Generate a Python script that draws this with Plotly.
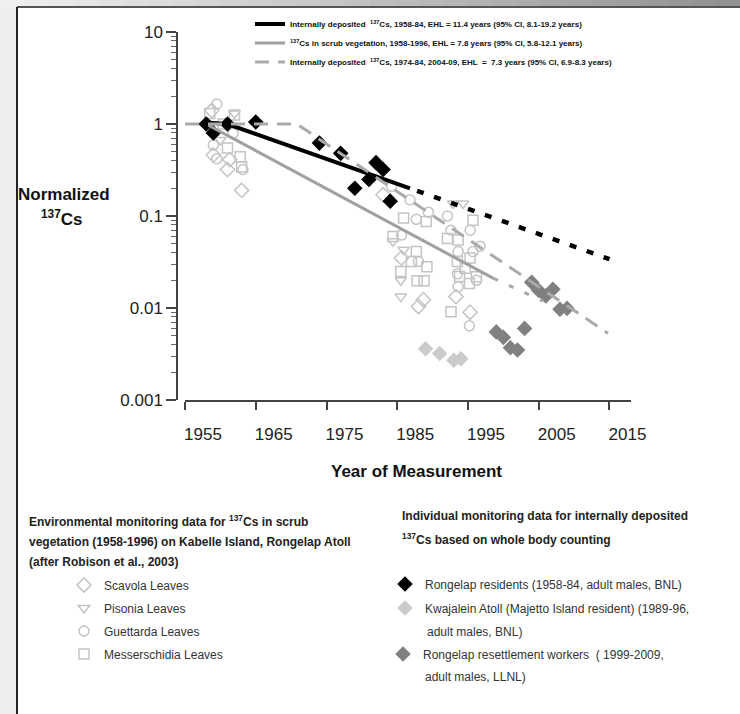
import plotly.graph_objects as go

# ---------------- data ----------------
# Trend lines
ehl1_years = [1958.0, 1961.0, 1986.8]
ehl1_vals = [1.04, 1.0, 0.2]
ehl1_ext_years = [1987.8, 2015.0]
ehl1_ext_vals = [0.188, 0.034]
veg_fit_years = [1958.3, 1998.6]
veg_fit_vals = [0.97, 0.021]
veg_ext_years = [1998.6, 2005.6]
veg_ext_vals = [0.021, 0.0119]
ehl3_years = [1955.0, 1970.8, 2014.8]
ehl3_vals = [1.0, 1.0, 0.0053]

# Environmental monitoring (scrub vegetation)
scavola_years = [1958.8, 1959.0, 1961.0, 1961.3, 1963.0, 1983.0, 1985.6, 1988.7, 1988.0, 1993.3, 1995.3]
scavola_vals = [1.4, 0.46, 0.32, 0.41, 0.19, 0.17, 0.035, 0.0123, 0.0104, 0.0133, 0.009]
pisonia_years = [1960.0, 1962.0, 1984.4, 1985.9, 1985.5, 1985.5, 1992.9, 1994.3]
pisonia_vals = [0.67, 1.3, 0.053, 0.043, 0.02, 0.0133, 0.137, 0.137]
guettarda_years = [1959.5, 1959.0, 1959.5, 1961.8, 1963.2, 1984.2, 1986.8, 1989.4, 1987.7, 1985.6, 1988.0,
                   1992.1, 1992.6, 1995.3, 1996.7, 1993.6, 1995.7, 1993.5, 1996.2, 1993.6, 1995.2]
guettarda_vals = [1.65, 0.59, 0.42, 0.79, 0.32, 0.21, 0.15, 0.11, 0.092, 0.062, 0.032,
                  0.10, 0.07, 0.07, 0.047, 0.041, 0.041, 0.0235, 0.02, 0.017, 0.0064]
messer_years = [1958.5, 1962.0, 1960.4, 1961.0, 1962.8, 1963.0, 1985.9, 1989.1, 1984.4, 1987.7, 1987.0, 1989.2,
                1985.5, 1987.8, 1988.8, 1995.7, 1992.1, 1993.6, 1995.3, 1993.5, 1994.6, 1996.2, 1993.8, 1995.2, 1992.6]
messer_vals = [1.3, 1.25, 1.0, 0.55, 0.44, 0.34, 0.095, 0.087, 0.06, 0.041, 0.032, 0.028,
               0.025, 0.0198, 0.0198, 0.09, 0.057, 0.055, 0.035, 0.032, 0.027, 0.0218, 0.022, 0.0185, 0.0091]

# Individual monitoring (whole body counting)
rongelap_years = [1958, 1959, 1961, 1965, 1974, 1977, 1979, 1981, 1982, 1983, 1984]
rongelap_vals = [1.0, 0.8, 1.0, 1.05, 0.62, 0.48, 0.2, 0.25, 0.38, 0.32, 0.145]
kwaj_years = [1989, 1991, 1993, 1994]
kwaj_vals = [0.0036, 0.0032, 0.0027, 0.0028]
workers_years = [1999, 2000, 2001, 2002, 2003, 2004, 2005, 2006, 2007, 2008, 2009]
workers_vals = [0.0055, 0.0048, 0.0037, 0.0035, 0.006, 0.019, 0.0155, 0.0135, 0.016, 0.0097, 0.0099]

y_tickvals = [0.001, 0.01, 0.1, 1, 10]
y_ticktext = ["0.001", "0.01", "0.1", "1", "10"]
x_tickvals = [1955, 1965, 1975, 1985, 1995, 2005, 2015]

# ---------------- figure ----------------
W, H = 740, 714
FONT = "Liberation Sans, Arial, sans-serif"


def px(x):
    return x / W


def py(y):
    return 1 - y / H


fig = go.Figure()

veg = [
    ("Scavola Leaves", "diamond-open", scavola_years, scavola_vals, 11),
    ("Pisonia Leaves", "triangle-down-open", pisonia_years, pisonia_vals, 10),
    ("Guettarda Leaves", "circle-open", guettarda_years, guettarda_vals, 10),
    ("Messerschidia Leaves", "square-open", messer_years, messer_vals, 10),
]
for name, sym, xs, ys, sz in veg:
    fig.add_trace(go.Scatter(
        x=xs, y=ys, mode="markers", name=name, legend="legend2", legendgroup=name,
        marker=dict(symbol=sym, size=sz, color="#c4c4c4", line=dict(color="#c4c4c4", width=1.5)),
        hoverinfo="skip"))

fig.add_trace(go.Scatter(
    x=rongelap_years, y=rongelap_vals, mode="markers",
    name="Rongelap residents (1958-84, adult males, BNL)", legend="legend3",
    marker=dict(symbol="diamond", size=12, color="#000000"), hoverinfo="skip"))
fig.add_trace(go.Scatter(
    x=kwaj_years, y=kwaj_vals, mode="markers",
    name="Kwajalein Atoll (Majetto Island resident) (1989-96,", legend="legend4",
    marker=dict(symbol="diamond", size=12, color="#cbcbcb"), hoverinfo="skip"))
fig.add_trace(go.Scatter(
    x=workers_years, y=workers_vals, mode="markers",
    name="Rongelap resettlement workers  ( 1999-2009,", legend="legend5",
    marker=dict(symbol="diamond", size=12, color="#808080"), hoverinfo="skip"))

# trend lines
fig.add_trace(go.Scatter(
    x=ehl1_years, y=ehl1_vals, mode="lines", legend="legend",
    name="<b>Internally deposited  <sup>137</sup>Cs, 1958-84, EHL = 11.4 years (95% CI, 8.1-19.2 years)</b>",
    line=dict(color="#000000", width=4), hoverinfo="skip"))
fig.add_trace(go.Scatter(
    x=veg_fit_years, y=veg_fit_vals, mode="lines", legend="legend",
    name="<b><sup>137</sup>Cs in scrub vegetation, 1958-1996, EHL = 7.8 years (95% CI, 5.8-12.1 years)</b>",
    line=dict(color="#a0a0a0", width=3), hoverinfo="skip"))
fig.add_trace(go.Scatter(
    x=ehl3_years, y=ehl3_vals, mode="lines", legend="legend",
    name="<b>Internally deposited  <sup>137</sup>Cs, 1974-84, 2004-09, EHL  =  7.3 years (95% CI, 6.9-8.3 years)</b>",
    line=dict(color="#aaaaaa", width=3, dash="14px,9px"), hoverinfo="skip"))
fig.add_trace(go.Scatter(
    x=ehl1_ext_years, y=ehl1_ext_vals, mode="lines", showlegend=False,
    line=dict(color="#000000", width=4.5, dash="7px,11px"), hoverinfo="skip"))
fig.add_trace(go.Scatter(
    x=veg_ext_years, y=veg_ext_vals, mode="lines", showlegend=False,
    line=dict(color="#a8a8a8", width=3, dash="5px,12px"), hoverinfo="skip"))

# ---------------- frame decoration ----------------
shapes = []
N = 30
for i in range(N):
    t = i / (N - 1)
    c = int(240 - t * 95)
    shapes.append(dict(type="rect", xref="paper", yref="paper", layer="below",
                       x0=i / N, x1=(i + 1) / N + 0.001, y0=py(7), y1=1,
                       fillcolor=f"rgb({c},{c},{c})", line=dict(width=0)))
shapes.append(dict(type="rect", xref="paper", yref="paper", layer="below",
                   x0=0, x1=px(17), y0=0, y1=py(7), fillcolor="#eeeeee", line=dict(width=0)))
shapes.append(dict(type="line", xref="paper", yref="paper",
                   x0=px(17), x1=1, y0=py(7), y1=py(7), line=dict(color="#555555", width=2)))
shapes.append(dict(type="line", xref="paper", yref="paper",
                   x0=px(17), x1=px(17), y0=0, y1=py(7), line=dict(color="#222222", width=2)))

# ---------------- annotations ----------------
ann = []


def text(t, x, y, size=12, xanchor="left", color="#222222"):
    ann.append(dict(text=t, x=px(x), y=py(y), xref="paper", yref="paper", showarrow=False,
                    xanchor=xanchor, yanchor="middle", align=xanchor if xanchor != "center" else "center",
                    font=dict(family=FONT, size=size, color=color)))


text("<b>Normalized</b>", 64, 195, size=17, xanchor="center", color="#111111")
text("<b><sup>137</sup>Cs</b>", 62, 218, size=17, xanchor="center", color="#111111")
text("<b>Year of Measurement</b>", 416, 471, size=17, xanchor="center", color="#111111")

text("<b>Environmental monitoring data for <sup>137</sup>Cs in scrub</b>", 27, 521, size=12)
text("<b>vegetation (1958-1996) on Kabelle Island, Rongelap Atoll</b>", 27, 542, size=12)
text("<b>(after Robison et al., 2003)</b>", 27, 562, size=12)

text("<b>Individual monitoring data for internally deposited</b>", 400, 516, size=12)
text("<b><sup>137</sup>Cs based on whole body counting</b>", 400, 539, size=12)

text("adult males, BNL)", 425, 632, size=12, color="#333333")
text("adult males, LLNL)", 423, 677, size=12, color="#333333")


def leg(x, y, size, color, gap=0):
    return dict(x=px(x), y=py(y), xanchor="left", yanchor="top", xref="paper", yref="paper",
                bgcolor="rgba(0,0,0,0)", borderwidth=0, traceorder="grouped" if gap else "normal",
                tracegroupgap=gap, valign="middle",
                font=dict(family=FONT, size=size, color=color))


fig.update_layout(
    width=W, height=H, autosize=False,
    margin=dict(l=0, r=0, t=0, b=0, pad=0, autoexpand=False),
    paper_bgcolor="#ffffff", plot_bgcolor="rgba(0,0,0,0)",
    showlegend=True,
    font=dict(family=FONT, color="#222222"),
    xaxis=dict(domain=[px(185), px(631)], range=[1955, 2018.04], anchor="y",
               tickmode="array", tickvals=x_tickvals, ticks="outside", ticklen=8, tickwidth=1.5,
               tickcolor="#444444", showline=True, linecolor="#444444", linewidth=1.5,
               showgrid=False, zeroline=False, ticklabelshift=18, ticklabelstandoff=10,
               tickfont=dict(family=FONT, size=17, color="#222222")),
    yaxis=dict(type="log", domain=[py(400), py(32)], range=[-3, 1], anchor="free", position=px(177),
               tickmode="array", tickvals=y_tickvals, ticktext=y_ticktext,
               ticks="outside", ticklen=10, tickwidth=1.5, tickcolor="#444444",
               minor=dict(ticks="outside", ticklen=5, tickwidth=1, tickcolor="#666666", dtick="D1", showgrid=False),
               showline=True, linecolor="#444444", linewidth=1.5, showgrid=False, zeroline=False,
               tickfont=dict(family=FONT, size=17, color="#222222")),
    legend=leg(250, 9.5, 8, "#111111"),
    legend2=leg(64, 570.5, 12, "#333333", gap=4),
    legend3=leg(385, 569.5, 12, "#333333"),
    legend4=leg(385, 593.5, 12, "#333333"),
    legend5=leg(383, 639.5, 12, "#333333"),
    shapes=shapes,
    annotations=ann,
)

fig.write_html("out.html", config={"displayModeBar": False},
               post_script="document.body.style.margin='0';document.body.style.overflow='hidden';")
